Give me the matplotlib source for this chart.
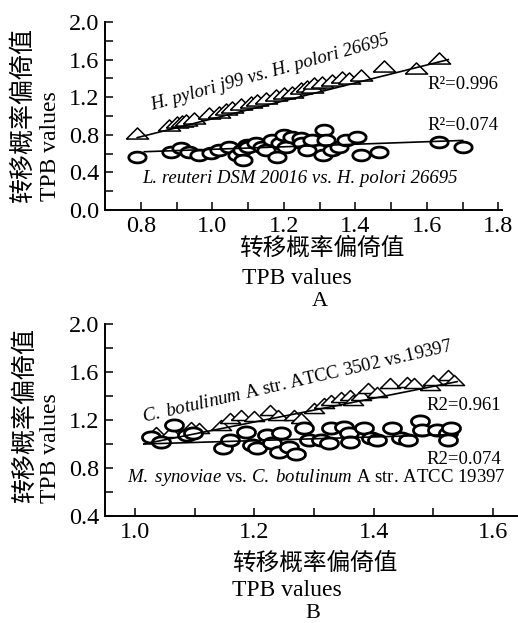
import matplotlib
matplotlib.use("Agg")
import matplotlib.pyplot as plt
import numpy as np

plt.rcParams['font.family'] = ['Liberation Serif', 'Noto Sans CJK SC']
plt.rcParams['mathtext.fontset'] = 'custom'
plt.rcParams['mathtext.rm'] = 'Liberation Serif'
plt.rcParams['mathtext.it'] = 'Liberation Serif:italic'

# Panel A: H. pylori j99 vs. H. polori 26695 (triangles)
a_tri_x = [0.79, 0.878, 0.90, 0.915, 0.926, 0.948, 0.99, 1.018, 1.038, 1.055, 1.08, 1.108,
           1.125, 1.15, 1.178, 1.20, 1.223, 1.248, 1.265, 1.28, 1.285, 1.307, 1.335, 1.363,
           1.383, 1.416, 1.48, 1.57, 1.635]
a_tri_y = [0.82, 0.90, 0.94, 0.95, 0.96, 0.98, 1.03, 1.04, 1.07, 1.095, 1.13, 1.15,
           1.17, 1.19, 1.22, 1.245, 1.255, 1.30, 1.32, 1.31, 1.35, 1.36, 1.38, 1.415,
           1.40, 1.435, 1.53, 1.51, 1.62]
# Panel A: L. reuteri DSM 20016 vs. H. polori 26695 (circles)
a_cir_x = [0.79, 0.884, 0.912, 0.935, 0.962, 0.996, 1.018, 1.047, 1.07, 1.083, 1.085, 1.097,
           1.10, 1.122, 1.14, 1.15, 1.167, 1.18, 1.19, 1.20, 1.205, 1.223, 1.248, 1.25,
           1.265, 1.28, 1.31, 1.313, 1.318, 1.335, 1.355, 1.374, 1.405, 1.416, 1.467,
           1.635, 1.70]
a_cir_y = [0.565, 0.62, 0.66, 0.62, 0.585, 0.605, 0.64, 0.67, 0.585, 0.64, 0.53, 0.69,
           0.67, 0.71, 0.67, 0.64, 0.745, 0.565, 0.71, 0.80, 0.67, 0.78, 0.765, 0.71,
           0.64, 0.745, 0.59, 0.85, 0.745, 0.64, 0.67, 0.745, 0.78, 0.585, 0.62,
           0.72, 0.67]
# trend lines as drawn in panel A (start/end)
a_tri_fit_x = [0.79, 1.66]
a_tri_fit_y = [0.77, 1.60]
a_cir_fit_x = [0.81, 1.70]
a_cir_fit_y = [0.62, 0.74]

# Panel B: C. botulinum A str. ATCC 3502 vs. 19397 (triangles)
b_tri_x = [1.035, 1.06, 1.094, 1.107, 1.144, 1.16, 1.177, 1.20, 1.227, 1.24, 1.266, 1.278,
           1.30, 1.316, 1.328, 1.345, 1.36, 1.366, 1.378, 1.39, 1.406, 1.428, 1.456, 1.467,
           1.495, 1.50, 1.525, 1.534]
b_tri_y = [1.10, 1.10, 1.14, 1.13, 1.16, 1.22, 1.24, 1.23, 1.28, 1.24, 1.24, 1.22,
           1.30, 1.34, 1.37, 1.39, 1.41, 1.37, 1.41, 1.47, 1.43, 1.51, 1.52, 1.51,
           1.49, 1.53, 1.575, 1.53]
# Panel B: M. synoviae vs. C. botulinum A str. ATCC 19397 (circles)
b_cir_x = [1.027, 1.043, 1.065, 1.088, 1.097, 1.147, 1.16, 1.186, 1.197, 1.205, 1.222, 1.23,
           1.244, 1.241, 1.258, 1.27, 1.283, 1.291, 1.311, 1.325, 1.328, 1.35, 1.358, 1.361,
           1.384, 1.395, 1.405, 1.43, 1.445, 1.458, 1.478, 1.481, 1.506, 1.525, 1.525, 1.53]
b_cir_y = [1.06, 1.02, 1.16, 1.075, 1.09, 0.97, 1.03, 1.10, 0.99, 0.97, 1.075, 1.01,
           1.09, 0.93, 0.975, 0.92, 1.13, 1.03, 1.03, 1.01, 1.13, 1.14, 1.09, 1.02,
           1.13, 1.05, 1.03, 1.13, 1.05, 1.03, 1.19, 1.12, 1.12, 1.09, 1.03, 1.13]
b_tri_fit_x = [1.015, 1.54]
b_tri_fit_y = [1.00, 1.52]
b_cir_fit_x = [1.015, 1.54]
b_cir_fit_y = [1.00, 1.08]

cn_label = '转移概率偏倚值'
en_label = 'TPB values'

# wide flat marker shapes like the original
tri_marker = [(-1, -0.5), (1, -0.5), (0, 0.5), (-1, -0.5)]
t = np.linspace(0, 2 * np.pi, 60)
ell_marker = list(zip(np.cos(t), 0.62 * np.sin(t)))

W, H = 518, 623
fig = plt.figure(figsize=(W / 100, H / 100), dpi=100)


def fx(px):
    return px / W


def fy(py):
    return 1 - py / H


def style_axes(ax):
    for s in ['top', 'right']:
        ax.spines[s].set_visible(False)
    for s in ['left', 'bottom']:
        ax.spines[s].set_linewidth(1.4)
    ax.tick_params(which='both', direction='in', length=5.5, width=1.1, labelsize=17.5, pad=4)


def draw_series(ax, tx, ty, cx, cy, fits, tri_ms, cir_ms):
    ax.plot(tx, ty, linestyle='none', marker=tri_marker, markersize=tri_ms,
            markerfacecolor='white', markeredgecolor='black', markeredgewidth=1.1, zorder=2)
    ax.plot(cx, cy, linestyle='none', marker=ell_marker, markersize=cir_ms,
            markerfacecolor='white', markeredgecolor='black', markeredgewidth=2.0, zorder=3)
    for xs, ys in fits:
        ax.plot(xs, ys, color='black', linewidth=1.2, zorder=4)


# ---------------- Panel A ----------------
axA = fig.add_axes([fx(105), fy(210), fx(502) - fx(105), fy(22) - fy(210)])
draw_series(axA, a_tri_x, a_tri_y, a_cir_x, a_cir_y,
            [(a_tri_fit_x, a_tri_fit_y), (a_cir_fit_x, a_cir_fit_y)], 16, 12.5)
axA.set_xlim(0.70, 1.81)
axA.set_ylim(0, 2.0)
axA.set_xticks([0.8, 1.0, 1.2, 1.4, 1.6, 1.8])
axA.set_xticks([0.9, 1.1, 1.3, 1.5, 1.7], minor=True)
axA.set_yticks([0.0, 0.4, 0.8, 1.2, 1.6, 2.0])
axA.set_yticks([0.2, 0.6, 1.0, 1.4, 1.8], minor=True)
axA.set_xticklabels(['0.8', '1.0', '1.2', '1.4', '1.6', '1.8'])
axA.set_yticklabels(['0.0', '0.4', '0.8', '1.2', '1.6', '2.0'])
style_axes(axA)

axA.text(0.831, 1.064, 'H. pylori j99 vs. H. polori 26695', style='italic', fontsize=13.5,
         rotation=15.5, rotation_mode='anchor', ha='left', va='baseline')
axA.text(1.601, 1.33, 'R²=0.996', fontsize=13.5, ha='left', va='center')
axA.text(1.601, 0.904, 'R²=0.074', fontsize=13.5, ha='left', va='center')
axA.text(0.803, 0.34, 'L. reuteri DSM 20016 vs. H. polori 26695', style='italic',
         fontsize=13.5, ha='left', va='center')

fig.text(fx(23), fy(203), cn_label, family='Noto Sans CJK SC', fontsize=18,
         rotation=90, ha='center', va='bottom')
fig.text(fx(50), fy(201), en_label, fontsize=17, rotation=90, ha='center', va='bottom')
fig.text(fx(322), fy(248), cn_label, family='Noto Sans CJK SC', fontsize=17,
         ha='center', va='center')
fig.text(fx(242), fy(279), en_label, fontsize=17, ha='left', va='center')
fig.text(fx(320), fy(302), 'A', fontsize=16, ha='center', va='center')

# ---------------- Panel B ----------------
axB = fig.add_axes([fx(105), fy(516), fx(517) - fx(105), fy(324) - fy(516)])
draw_series(axB, b_tri_x, b_tri_y, b_cir_x, b_cir_y,
            [(b_tri_fit_x, b_tri_fit_y), (b_cir_fit_x, b_cir_fit_y)], 14.5, 13)
axB.set_xlim(0.95, 1.64)
axB.set_ylim(0.4, 2.0)
axB.set_xticks([1.0, 1.2, 1.4, 1.6])
axB.set_xticks([1.1, 1.3, 1.5], minor=True)
axB.set_yticks([0.4, 0.8, 1.2, 1.6, 2.0])
axB.set_yticks([0.6, 1.0, 1.4, 1.8], minor=True)
axB.set_xticklabels(['1.0', '1.2', '1.4', '1.6'])
axB.set_yticklabels(['0.4', '0.8', '1.2', '1.6', '2.0'])
style_axes(axB)

axB.text(1.015, 1.183, r'$\mathit{C.\ botulinum}$ A str. ATCC 3502 vs.19397', fontsize=13.5,
         rotation=13, rotation_mode='anchor', ha='left', va='baseline')
axB.text(1.488, 1.325, 'R2=0.961', fontsize=13.5, ha='left', va='center')
axB.text(1.488, 0.867, 'R2=0.074', fontsize=13.5, ha='left', va='center')
axB.text(0.987, 0.717, r'$\mathit{M.\ synoviae}$ vs. $\mathit{C.\ botulinum}$ A str. ATCC 19397',
         fontsize=13.5, ha='left', va='center')

fig.text(fx(25), fy(503), cn_label, family='Noto Sans CJK SC', fontsize=18,
         rotation=90, ha='center', va='bottom')
fig.text(fx(50), fy(503), en_label, fontsize=17, rotation=90, ha='center', va='bottom')
fig.text(fx(315), fy(563), cn_label, family='Noto Sans CJK SC', fontsize=17,
         ha='center', va='center')
fig.text(fx(232), fy(590), en_label, fontsize=17, ha='left', va='center')
fig.text(fx(313), fy(614), 'B', fontsize=16, ha='center', va='center')

fig.savefig('out.png', dpi=100)
